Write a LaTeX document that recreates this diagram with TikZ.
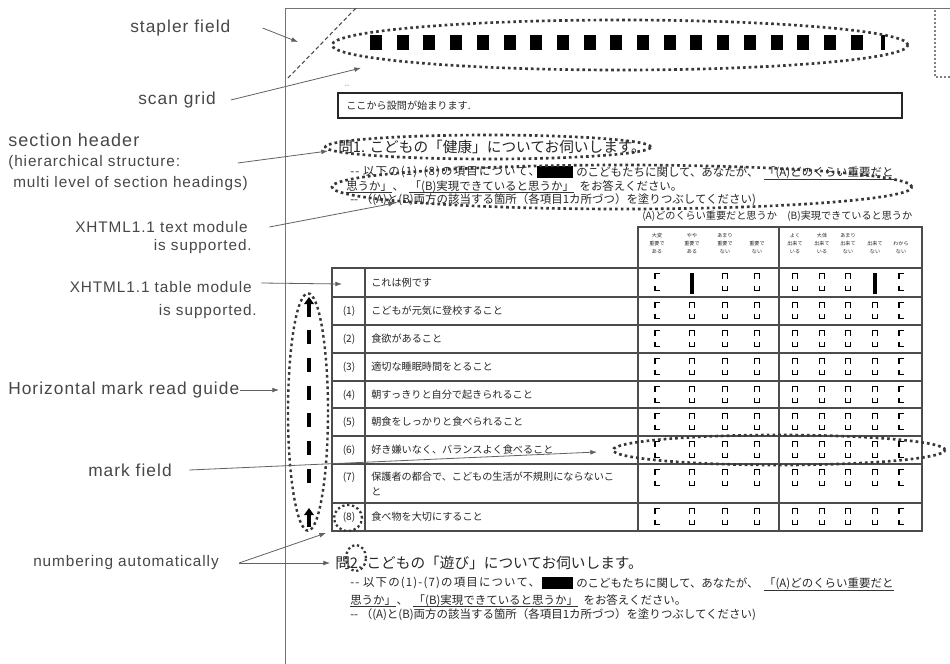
\documentclass[tikz,border=0pt]{standalone}
\usepackage{fontspec}
\setmainfont{Noto Sans CJK JP}
\newfontfamily\lab[LetterSpace=6]{Liberation Sans}
\newfontfamily\jpwide[LetterSpace=10]{Noto Sans CJK JP}
\usetikzlibrary{arrows.meta,calc}
\begin{document}
\begin{tikzpicture}[x=0.75pt,y=-0.75pt,
  lbl/.style={font=\lab\fontsize{13}{15}\selectfont,text=black!72,inner sep=0pt},
  lbls/.style={font=\lab\fontsize{11.5}{13}\selectfont,text=black!72,inner sep=0pt},
  ptr/.style={draw=black!62,line width=0.6pt,-{Latex[length=5pt,width=3.6pt]}},
  dots/.style={draw=black!78,line width=2pt,dash pattern=on 2pt off 2.3pt},
  sdots/.style={draw=black!78,line width=1.7pt,dash pattern=on 1.7pt off 2pt},
  head/.style={font=\fontsize{11}{13}\selectfont,text=black!85,inner sep=0pt},
  body/.style={font=\fontsize{8.6}{10}\selectfont,text=black!85,inner sep=0pt},
  bodyw/.style={font=\jpwide\fontsize{8.6}{10}\selectfont,text=black!85,inner sep=0pt},
  cell/.style={font=\fontsize{7.6}{9}\selectfont,text=black!85,inner sep=0pt},
  hdr/.style={font=\fontsize{3.8}{6}\selectfont,text=black!85,inner sep=0pt,align=center},
  tline/.style={draw=black!70,line width=0.9pt},
  uline/.style={draw=black!80,line width=0.5pt},
  cupT/.pic={\draw[line width=1.1pt] (-2.5,2.5) -- (-2.5,-2.5) -- (2.5,-2.5) -- (2.5,2.5);},
  cupB/.pic={\draw[line width=1.1pt] (-2.5,-2.5) -- (-2.5,2.5) -- (2.5,2.5) -- (2.5,-2.5);},
  cornT/.pic={\draw[line width=1.1pt] (-2,2.5) -- (-2,-2.5) -- (2.5,-2.5);},
  cornB/.pic={\draw[line width=1.1pt] (-2,-2.5) -- (-2,2.5) -- (2.5,2.5);},
]
\useasboundingbox (0,0) rectangle (950,664);
\fill[white] (0,0) rectangle (950,664);

% page edges
\draw[draw=black!55,line width=0.7pt] (285,664) -- (285,8) -- (950,8);
\draw[draw=black!50,line width=0.8pt,dash pattern=on 1.5pt off 1.5pt] (935,10) -- (935,77) -- (950,77);
% stapler field
\draw[draw=black!70,line width=0.8pt,dash pattern=on 3pt off 2pt] (288,78) -- (356,8);

% scan grid
\foreach \k in {0,...,18} \fill[black] ({370+26.7*\k},35) rectangle ++(12,15);
\fill[black] (881,35) rectangle ++(4,15);
\draw[dots] (620,45) ellipse [x radius=216pt, y radius=18.75pt];

% start box
\node[font=\fontsize{5}{5}\selectfont,inner sep=0pt,text=black!60] (dd) at (347,86) {-{}-};
\draw[draw=black!85,line width=1.4pt] (338,93) rectangle (902,118);
\node[cell,anchor=west] (start) at (346,106) {ここから設問が始まります.};

% section 1
\node[head,anchor=west] (h1) at (338,147) {問1. こどもの「健康」についてお伺いします。};
\node[bodyw,anchor=west] (a1) at (350,172) {-{}- 以下の(1)-(8)の項目について、};
\fill[black] (537,166) rectangle (573,178);
\node[body,anchor=west] (a2) at (576,172) {のこどもたちに関して、あなたが、};
\node[body,anchor=base west] (a3) at ($(a2.base east)+(5,0)$) {「(A)どのくらい重要だと};
\draw[uline] ($(a3.base west)+(0,2.5)$) -- ($(a3.base east)+(0,2.5)$);
\node[body,anchor=west] (b1) at (346,186) {思うか」};
\draw[uline] ($(b1.base west)+(0,2.5)$) -- ($(b1.base east)+(0,2.5)$);
\node[body,anchor=base west] (b2) at (b1.base east) {、};
\node[body,anchor=base west] (b3) at ($(b2.base east)+(5,0)$) {「(B)実現できていると思うか」};
\draw[uline] ($(b3.base west)+(0,2.5)$) -- ($(b3.base east)+(0,2.5)$);
\node[body,anchor=base west] (b4) at ($(b3.base east)+(5,0)$) {をお答えください。};
\node[body,anchor=west] (c1) at (350,200) {-{}- （(A)と(B)両方の該当する箇所（各項目1カ所づつ）を塗りつぶしてください)};
\draw[dots] (488,147) ellipse [x radius=122pt, y radius=9pt];
\draw[dots] (622,187) ellipse [x radius=217.5pt, y radius=16.5pt];

% table captions
\node[cell,anchor=west] (capA) at (642,216) {(A)どのくらい重要だと思うか};
\node[cell,anchor=west] (capB) at (787,216) {(B)実現できていると思うか};

% table
\draw[tline] (638,227) rectangle (922,268);
\draw[tline] (779,227) -- (779,531);
\draw[tline] (332,268) rectangle (922,531);
\draw[tline] (365,268) -- (365,531);
\draw[tline] (638,268) -- (638,531);
\foreach \yy in {297,325,353,381,408,436,464,503} \draw[tline] (332,\yy) -- (922,\yy);

\foreach \xx/\tx in {657/{大変\\重要で\\ある},692/{やや\\重要で\\ある},725/{あまり\\重要で\\ない},757/{重要で\\ない},
  795/{よく\\出来て\\いる},822/{大体\\出来て\\いる},848/{あまり\\出来て\\ない},875/{出来て\\ない},901/{わから\\ない}}
  \node[hdr,anchor=south] (hd\xx) at (\xx,254) {\tx};

\node[cell,anchor=west] (t0) at (371,283) {これは例です};
\foreach \nm/\yy/\num/\txt in {1/311/(1)/こどもが元気に登校すること,2/339/(2)/食欲があること,
  3/367/(3)/適切な睡眠時間をとること,4/395/(4)/朝すっきりと自分で起きられること,
  5/422/(5)/朝食をしっかりと食べられること,6/450/(6)/好き嫌いなく、バランスよく食べること,
  8/517/(8)/食べ物を大切にすること}{
  \node[cell] (n\nm) at (349,\yy) {\num};
  \node[cell,anchor=west] (t\nm) at (371,\yy) {\txt};
}
\node[cell] (n7) at (349,477) {(7)};
\node[cell,anchor=west] (t7) at (371,477) {保護者の都合で、こどもの生活が不規則にならないこ};
\node[cell,anchor=west] (t7b) at (371,492) {と};

% marks
\foreach \rt in {297,325,353,381,408,436,464,503}{
  \foreach \cc in {692,725,757,795,822,848,875}{\pic at (\cc,\rt+8) {cupT}; \pic at (\cc,\rt+19) {cupB};}
  \foreach \cc in {657,901}{\pic at (\cc,\rt+8) {cornT}; \pic at (\cc,\rt+19) {cornB};}
}
\foreach \cc in {725,757,795,822,848}{\pic at (\cc,276) {cupT}; \pic at (\cc,288) {cupB};}
\foreach \cc in {657,901}{\pic at (\cc,276) {cornT}; \pic at (\cc,288) {cornB};}
\fill[black] (689.7,273) rectangle (694.3,294);
\fill[black] (872.7,273) rectangle (877.3,294);

% horizontal read guide
\foreach \rt in {325,353,381,408,436,464} \fill[black] (307.2,\rt+5) rectangle (310.8,\rt+19);
\fill[black] (307.2,302) rectangle (310.8,317);
\fill[black] (304,304) -- (309,297) -- (314,304) -- cycle;
\fill[black] (307.2,513) rectangle (310.8,527);
\fill[black] (304,515) -- (309,508) -- (314,515) -- cycle;
\draw[dots,line width=1.8pt] (308,412) ellipse [x radius=15pt, y radius=89pt];

% mark field, numbering circles
\draw[dots] (779,450) ellipse [x radius=124.5pt, y radius=11.25pt];
\draw[sdots] (348,518) ellipse [x radius=10.5pt, y radius=9.75pt];

% section 2
\node[head,anchor=west] (h2) at (335,563) {問2. こどもの「遊び」についてお伺いします。};
\draw[sdots] (356,558) ellipse [x radius=7.5pt, y radius=9.75pt];
\node[bodyw,anchor=west] (d1) at (350,583) {-{}- 以下の(1)-(7)の項目について、};
\fill[black] (542,577) rectangle (573,589);
\node[body,anchor=west] (d2) at (576,583) {のこどもたちに関して、あなたが、};
\node[body,anchor=base west] (d3) at ($(d2.base east)+(5,0)$) {「(A)どのくらい重要だと};
\draw[uline] ($(d3.base west)+(0,2.5)$) -- ($(d3.base east)+(0,2.5)$);
\node[body,anchor=west] (e1) at (350,600) {思うか」};
\draw[uline] ($(e1.base west)+(0,2.5)$) -- ($(e1.base east)+(0,2.5)$);
\node[body,anchor=base west] (e2) at (e1.base east) {、};
\node[body,anchor=base west] (e3) at ($(e2.base east)+(5,0)$) {「(B)実現できていると思うか」};
\draw[uline] ($(e3.base west)+(0,2.5)$) -- ($(e3.base east)+(0,2.5)$);
\node[body,anchor=base west] (e4) at ($(e3.base east)+(5,0)$) {をお答えください。};
\node[body,anchor=west] (f1) at (350,615) {-{}- （(A)と(B)両方の該当する箇所（各項目1カ所づつ）を塗りつぶしてください)};

% labels
\node[lbl,anchor=west] (lstap) at (130,28) {stapler field};
\node[lbl,anchor=west] (lscan) at (138,100) {scan grid};
\node[font=\lab\fontsize{13.5}{15}\selectfont,text=black!72,inner sep=0pt,anchor=west] (lsec) at (8,140) {section header};
\node[lbls,anchor=west] (lsec2) at (8,163) {(hierarchical structure:};
\node[lbls,anchor=west] (lsec3) at (13,184) {multi level of section headings)};
\node[lbls,anchor=east] (ltxt) at (248,227) {XHTML1.1 text module};
\node[lbls,anchor=east] (ltxt2) at (252,247) {is supported.};
\node[lbls,anchor=east] (ltab) at (252,287) {XHTML1.1 table module};
\node[lbls,anchor=east] (ltab2) at (257,312) {is supported.};
\node[lbl,anchor=west] (lhor) at (8,390) {Horizontal mark read guide};
\node[lbl,anchor=west] (lmark) at (88,470) {mark field};
\node[lbls,anchor=west] (lnum) at (33,563) {numbering automatically};

% connectors
\coordinate (tstap) at (298,42);
\coordinate (tscan) at (361,68);
\coordinate (tsec) at (328,151);
\coordinate (ttxt) at (395,203);
\coordinate (ttab) at (342,284);
\coordinate (thor) at (279,390);
\coordinate (tmark) at (597,452);
\coordinate (tnum8) at (326,533);
\coordinate (tnum2) at (330,563);
\draw[ptr] ([xshift=24pt]lstap.east) -- (tstap);
\draw[ptr] ([xshift=11pt]lscan.east) -- (tscan);
\draw[ptr] ([xshift=43pt]lsec2.east) -- (tsec);
\draw[ptr] ([xshift=16pt]ltxt.east) -- (ttxt);
\draw[ptr] ([xshift=7pt,yshift=3pt]ltab.east) -- (ttab);
\draw[ptr] (lhor.east) -- (thor);
\draw[ptr] ([xshift=13pt]lmark.east) -- (tmark);
\draw[ptr] ([xshift=15pt]lnum.east) -- (tnum8);
\draw[ptr] ([xshift=15pt]lnum.east) -- (tnum2);
\end{tikzpicture}
\end{document}
